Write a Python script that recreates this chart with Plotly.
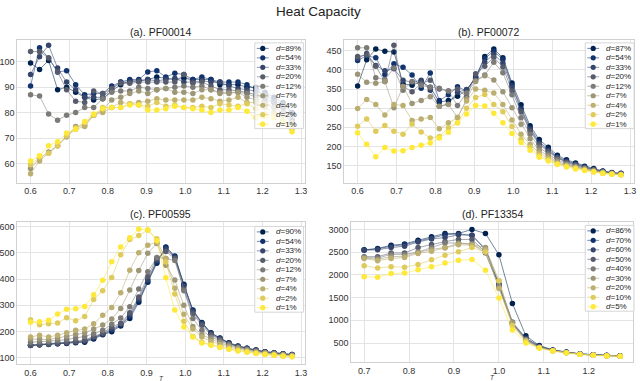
import plotly.graph_objects as go

W, H = 640, 381

# ---------------- data ----------------
T_abc = [0.6, 0.6233, 0.6467, 0.67, 0.6933, 0.7167, 0.74, 0.7633, 0.7867, 0.81,
         0.8333, 0.8567, 0.88, 0.9033, 0.9267, 0.95, 0.9733, 0.9967, 1.02, 1.0433,
         1.0667, 1.09, 1.1133, 1.1367, 1.16, 1.1833, 1.2067, 1.23, 1.2533, 1.2767]
T_d = [0.7, 0.73, 0.76, 0.79, 0.82, 0.85, 0.88, 0.91, 0.94, 0.97,
       1.0, 1.03, 1.06, 1.09, 1.12, 1.15, 1.18, 1.21, 1.24, 1.27]

labels_a = ["89%", "54%", "33%", "20%", "12%", "7%", "4%", "2%", "1%"]
labels_b = ["87%", "54%", "33%", "20%", "12%", "7%", "4%", "2%", "1%"]
labels_c = ["90%", "54%", "33%", "20%", "12%", "7%", "4%", "2%", "1%"]
labels_d = ["86%", "70%", "60%", "50%", "40%", "30%", "20%", "10%", "5%"]

# (a) PF00014
a_d89 = [99.5, 97, 100.5, 89, 90, 88, 86, 85, 85.5, 88.5, 91, 92.5, 92.5, 93, 94, 93.5, 93, 93.5, 93, 93, 93, 91, 91, 91, 90, 90, 88, 86, 84, 80]
a_d54 = [90.5, 105.5, 101.5, 96, 96.5, 91, 87, 87.5, 87.5, 90.5, 92, 93, 93, 96, 96.5, 94, 95.5, 95, 93, 94, 93, 92, 92, 92, 91, 89, 87, 85, 83, 79.5]
a_d33 = [95, 102, 106.5, 97.5, 92, 89, 86, 86, 86, 89.5, 92, 92, 92.5, 93, 92.5, 93, 93.5, 92, 92, 92.5, 92, 92, 90.5, 89.5, 89, 88.5, 86.5, 84, 82, 77]
a_d20 = [104, 104, 101.5, 96, 89, 84.5, 84, 88.5, 87.5, 89.5, 91.5, 91.5, 92, 92, 92, 92, 92, 95, 91.5, 92, 90.5, 89, 89, 88.5, 88, 87, 85, 84, 82, 77]
a_d12 = [87, 86.5, 79.5, 77, 79, 80, 82, 82, 85.5, 88, 88.5, 88.5, 90, 89.5, 89, 89.5, 90, 90.5, 90, 90.5, 89, 88, 88, 88, 87.5, 86, 84, 82, 80, 76]
a_d7 = [58, 62, 64.5, 67, 70.5, 74.5, 75, 79, 81, 85, 86, 87.5, 88.5, 87.5, 89, 89.5, 88, 88, 87.5, 89, 89, 87.5, 87.5, 88, 86, 85, 83.5, 82, 79.5, 76]
a_d4 = [56, 61, 64, 67, 70.5, 73.5, 74.5, 79, 80, 82, 84, 83.5, 84, 84.5, 85.5, 85, 85, 85, 85, 86, 85.5, 84.5, 85, 86, 84, 84, 82, 80, 79, 75]
a_d2 = [59.5, 62.5, 64, 67, 71, 74, 76, 79, 82, 82, 82, 83.5, 83, 82.5, 84, 82.5, 83, 82, 82, 82.5, 82, 83.5, 83, 82.5, 83.5, 81.5, 79.5, 79, 77, 73.5]
a_d1 = [61, 63, 67, 68.5, 72, 73.5, 76.5, 79.5, 81.5, 82, 82, 83, 83, 81, 81, 81.5, 82.5, 82, 81.5, 81, 80, 81, 81, 82, 80.5, 78, 78.5, 78, 76, 72.5]

# (b) PF00072
b_d87 = [358, 427, 455, 449, 447, 364, 360, 370, 355, 316, 320, 331, 348, 380, 435, 455, 432, 366, 309, 254, 218, 198, 177, 165, 157, 148, 142, 136, 132, 130]
b_d54 = [425, 437, 432, 388, 416, 407, 387, 352, 392, 320, 335, 356, 345, 382, 430, 449, 428, 360, 300, 248, 212, 192, 173, 162, 155, 146, 140, 135, 131, 129]
b_d33 = [430, 443, 412, 398, 403, 373, 368, 373, 347, 305, 311, 342, 349, 378, 421, 441, 418, 355, 295, 244, 208, 189, 171, 160, 153, 145, 139, 134, 130, 128]
b_d20 = [435, 440, 410, 370, 465, 357, 343, 365, 373, 350, 345, 350, 330, 390, 410, 433, 408, 345, 290, 240, 205, 186, 170, 158, 151, 144, 139, 134, 130, 128]
b_d12 = [458, 458, 380, 375, 405, 347, 370, 360, 355, 352, 345, 307, 340, 372, 387, 420, 393, 335, 275, 232, 198, 180, 165, 155, 148, 142, 137, 133, 130, 127]
b_d7 = [389, 368, 365, 370, 301, 357, 312, 320, 330, 305, 310, 276, 325, 370, 385, 374, 343, 301, 258, 220, 190, 175, 160, 152, 146, 141, 136, 132, 129, 127]
b_d4 = [299, 323, 310, 282, 310, 307, 268, 272, 276, 246, 262, 276, 319, 350, 347, 340, 310, 269, 232, 205, 183, 170, 157, 150, 145, 139, 135, 131, 128, 126]
b_d2 = [253, 272, 240, 255, 240, 232, 259, 238, 222, 226, 249, 262, 300, 328, 336, 310, 291, 252, 218, 198, 177, 165, 155, 148, 143, 138, 134, 130, 128, 126]
b_d1 = [236, 206, 173, 197, 188, 189, 197, 203, 209, 222, 237, 262, 285, 307, 306, 287, 262, 234, 210, 190, 172, 162, 153, 146, 141, 137, 133, 129, 127, 125]

# (c) PF00595
c_d90 = [148, 150, 152, 154, 155, 158, 160, 172, 188, 200, 222, 250, 312, 388, 460, 522, 487, 380, 282, 235, 196, 176, 158, 146, 137, 130, 124, 120, 116, 113]
c_d54 = [148, 150, 153, 155, 157, 160, 163, 175, 190, 205, 225, 258, 318, 392, 465, 520, 485, 378, 280, 233, 195, 175, 157, 145, 137, 130, 124, 119, 116, 113]
c_d33 = [147, 150, 151, 154, 157, 161, 165, 178, 192, 210, 228, 265, 325, 398, 470, 513, 482, 372, 276, 230, 192, 173, 156, 144, 136, 129, 123, 119, 115, 112]
c_d20 = [150, 152, 154, 157, 160, 163, 168, 182, 195, 218, 232, 272, 332, 410, 478, 505, 478, 360, 268, 224, 188, 170, 154, 142, 134, 128, 122, 118, 114, 111]
c_d12 = [160, 162, 163, 166, 170, 176, 182, 192, 205, 228, 252, 295, 362, 428, 482, 478, 470, 355, 250, 205, 180, 165, 150, 140, 132, 126, 121, 117, 113, 110]
c_d7 = [172, 172, 170, 176, 182, 190, 195, 210, 225, 248, 288, 358, 432, 498, 535, 452, 396, 300, 220, 188, 172, 158, 146, 137, 130, 124, 119, 115, 112, 109]
c_d4 = [180, 186, 180, 186, 196, 205, 210, 230, 262, 292, 348, 433, 500, 528, 540, 478, 365, 266, 210, 180, 163, 151, 141, 133, 127, 121, 117, 113, 110, 108]
c_d2 = [245, 226, 230, 233, 253, 241, 258, 322, 355, 406, 492, 550, 565, 586, 553, 465, 343, 240, 182, 160, 150, 142, 134, 128, 123, 118, 114, 111, 108, 106]
c_d1 = [236, 238, 243, 267, 285, 287, 296, 340, 395, 466, 522, 557, 590, 586, 545, 405, 282, 218, 180, 157, 148, 140, 133, 127, 122, 117, 113, 110, 107, 105]

# (d) PF13354
d_d86 = [2550, 2580, 2650, 2680, 2760, 2840, 2910, 2910, 3000, 2910, 2440, 1370, 660, 445, 350, 305, 265, 245, 230, 220]
d_d70 = [2545, 2570, 2630, 2660, 2740, 2810, 2880, 2900, 2870, 2570, 1800, 960, 610, 430, 345, 300, 262, 243, 228, 218]
d_d60 = [2540, 2550, 2600, 2630, 2720, 2790, 2820, 2880, 2870, 2550, 1780, 940, 600, 425, 342, 298, 260, 241, 226, 216]
d_d50 = [2400, 2400, 2480, 2480, 2600, 2670, 2730, 2780, 2780, 2500, 1760, 930, 580, 415, 338, 294, 258, 239, 224, 214]
d_d40 = [2380, 2370, 2450, 2450, 2500, 2600, 2700, 2700, 2680, 2480, 1740, 920, 570, 410, 335, 292, 256, 237, 223, 213]
d_d30 = [2370, 2340, 2400, 2410, 2490, 2560, 2600, 2690, 2670, 2600, 1870, 960, 560, 405, 332, 290, 254, 236, 222, 212]
d_d20 = [2360, 2310, 2360, 2380, 2470, 2520, 2590, 2660, 2650, 2550, 1700, 900, 550, 400, 330, 288, 253, 235, 221, 211]
d_d10 = [2200, 2150, 2180, 2170, 2230, 2330, 2430, 2510, 2600, 2500, 1870, 880, 530, 395, 328, 285, 252, 234, 220, 210]
d_d5 = [1960, 1950, 2030, 2040, 2110, 2180, 2260, 2320, 2340, 2100, 1490, 790, 500, 385, 325, 282, 250, 232, 218, 208]

xticks_abc = [0.6, 0.7, 0.8, 0.9, 1.0, 1.1, 1.2, 1.3]
xticks_d = [0.7, 0.8, 0.9, 1.0, 1.1, 1.2]
yticks_a = [60, 70, 80, 90, 100]
yticks_b = [150, 200, 250, 300, 350, 400, 450]
yticks_c = [100, 200, 300, 400, 500, 600]
yticks_d = [500, 1000, 1500, 2000, 2500, 3000]

titles = ["(a). PF00014", "(b). PF00072", "(c). PF00595", "(d). PF13354"]

# ---------------- style ----------------
COLORS = ["#00224e", "#11336e", "#35456c", "#575c6d", "#7c7b78",
          "#9d9677", "#bcaf6f", "#dfcb5b", "#fee838"]


def rgba(hexc, a):
    h = hexc.lstrip("#")
    return "rgba(%d,%d,%d,%.2f)" % (int(h[0:2], 16), int(h[2:4], 16), int(h[4:6], 16), a)


def px(x):
    return x / W


def py(y):
    return 1 - y / H


panels = [
    dict(T=T_abc, series=[a_d89, a_d54, a_d33, a_d20, a_d12, a_d7, a_d4, a_d2, a_d1], labels=labels_a,
         xdom=(17.5, 306), ydom=(182, 39), xr=[0.566, 1.309], yr=[52.5, 108.6],
         xt=xticks_abc, yt=yticks_a, leg=(256, 42), title_y=31),
    dict(T=T_abc, series=[b_d87, b_d54, b_d33, b_d20, b_d12, b_d7, b_d4, b_d2, b_d1], labels=labels_b,
         xdom=(346, 636.5), ydom=(182, 39), xr=[0.566, 1.309], yr=[105.6, 478.7],
         xt=xticks_abc, yt=yticks_b, leg=(588, 42), title_y=31),
    dict(T=T_abc, series=[c_d90, c_d54, c_d33, c_d20, c_d12, c_d7, c_d4, c_d2, c_d1], labels=labels_c,
         xdom=(17.5, 306), ydom=(364, 222), xr=[0.566, 1.309], yr=[77, 615],
         xt=xticks_abc, yt=yticks_c, leg=(256, 226), title_y=214),
    dict(T=T_d, series=[d_d86, d_d70, d_d60, d_d50, d_d40, d_d30, d_d20, d_d10, d_d5], labels=labels_d,
         xdom=(353, 636), ydom=(362, 222), xr=[0.6715, 1.2985], yr=[83, 3153],
         xt=xticks_d, yt=yticks_d, leg=(588, 225), title_y=214),
]

FONT = "Liberation Sans, Arial, sans-serif"
fig = go.Figure()
shapes = []
annotations = []

for pi, p in enumerate(panels):
    suf = "" if pi == 0 else str(pi + 1)
    for ci, (vals, lab) in enumerate(zip(p["series"], p["labels"])):
        fig.add_trace(go.Scatter(
            x=p["T"], y=vals, mode="lines+markers", name="d=" + lab,
            line=dict(color=rgba(COLORS[ci], 0.55), width=1),
            marker=dict(color=COLORS[ci], size=5.5, line=dict(width=0)),
            xaxis="x" + suf, yaxis="y" + suf, showlegend=False,
        ))
    common = dict(showgrid=True, gridcolor="#e4e4e4", gridwidth=1, showline=True,
                  linecolor="#d0d0d0", linewidth=1, mirror=True, zeroline=False,
                  ticks="", tickfont=dict(size=9, color="#333333", family=FONT))
    fig.layout["xaxis" + suf] = dict(
        domain=[px(p["xdom"][0]), px(p["xdom"][1])], range=p["xr"], tickvals=p["xt"],
        tickformat=".1f", anchor="y" + suf, **common)
    fig.layout["yaxis" + suf] = dict(
        domain=[py(p["ydom"][0]), py(p["ydom"][1])], range=p["yr"], tickvals=p["yt"],
        anchor="x" + suf, **common)

    # subplot title
    cx = (p["xdom"][0] + p["xdom"][1]) / 2
    annotations.append(dict(x=px(cx), y=py(p["title_y"]), xref="paper", yref="paper",
                            text=titles[pi], showarrow=False, xanchor="center", yanchor="middle",
                            font=dict(size=10.5, color="#222222", family=FONT)))

    # manual legend
    lx, ly = p["leg"]
    shapes.append(dict(type="rect", xref="paper", yref="paper",
                       x0=px(lx), x1=px(lx + 49), y0=py(ly + 86), y1=py(ly),
                       fillcolor="rgba(255,255,255,0.8)", line=dict(color="#d6d6d6", width=1), layer="above"))
    for ci, lab in enumerate(p["labels"]):
        ey = ly + 5.5 + 9.5 * ci
        mx = lx + 8
        shapes.append(dict(type="line", xref="paper", yref="paper",
                           x0=px(mx - 6), x1=px(mx + 6), y0=py(ey), y1=py(ey),
                           line=dict(color=rgba(COLORS[ci], 0.55), width=1), layer="above"))
        shapes.append(dict(type="circle", xref="paper", yref="paper",
                           x0=px(mx - 2.6), x1=px(mx + 2.6), y0=py(ey + 2.6), y1=py(ey - 2.6),
                           fillcolor=COLORS[ci], line=dict(width=0), layer="above"))
        annotations.append(dict(x=px(lx + 19), y=py(ey), xref="paper", yref="paper",
                                text="<i>d</i>=" + lab, showarrow=False, xanchor="left", yanchor="middle",
                                font=dict(size=8, color="#262626", family=FONT)))

# main title
annotations.append(dict(x=0.5, y=py(11), xref="paper", yref="paper", text="Heat Capacity",
                        showarrow=False, xanchor="center", yanchor="middle",
                        font=dict(size=13.5, color="#222222", family=FONT)))
# T axis labels
for (xx, yy) in [(162, 378), (495, 377.5)]:
    annotations.append(dict(x=px(xx), y=py(yy), xref="paper", yref="paper", text="<i>T</i>",
                            showarrow=False, xanchor="center", yanchor="middle",
                            font=dict(size=6.5, color="#333333", family=FONT)))

fig.update_layout(
    width=W, height=H, margin=dict(l=0, r=0, t=0, b=0),
    paper_bgcolor="white", plot_bgcolor="white",
    shapes=shapes, annotations=annotations, showlegend=False,
    font=dict(family=FONT),
)

fig.write_html("out.html", config={"displayModeBar": False},
               post_script="document.body.style.margin='0';document.body.style.overflow='hidden';")
